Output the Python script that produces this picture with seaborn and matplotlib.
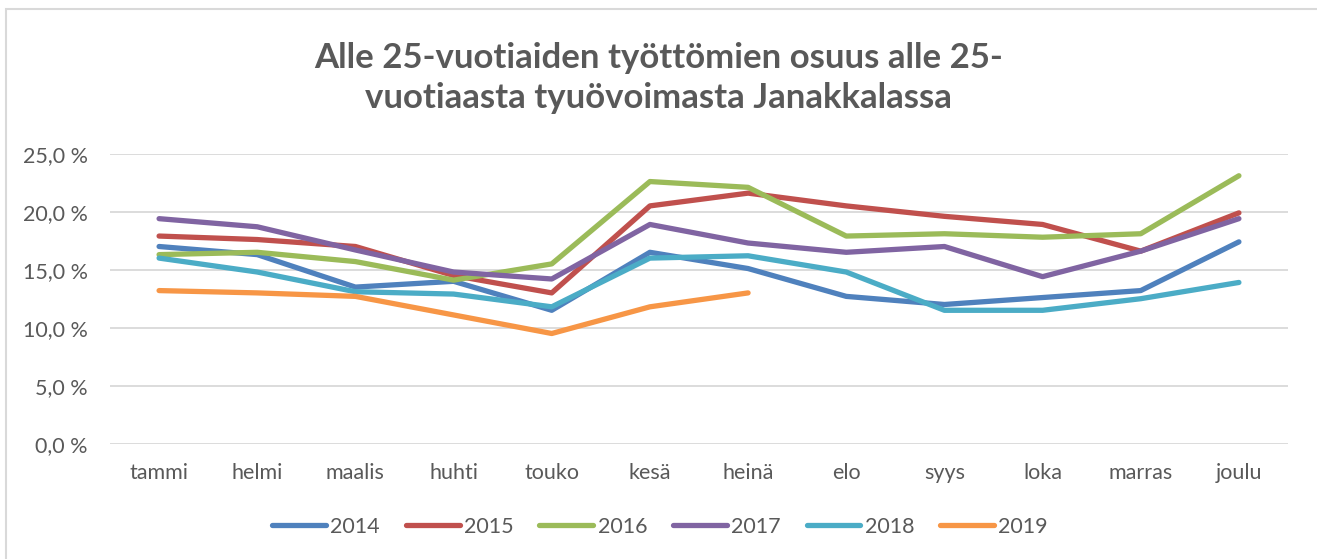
import numpy as np
import pandas as pd
import matplotlib
matplotlib.use("Agg")
import matplotlib.pyplot as plt
import seaborn as sns
from matplotlib.patches import Rectangle
from matplotlib.lines import Line2D

months = ["tammi", "helmi", "maalis", "huhti", "touko", "kesä", "heinä",
          "elo", "syys", "loka", "marras", "joulu"]
y2014 = [17.0, 16.3, 13.5, 14.0, 11.5, 16.5, 15.1, 12.7, 12.0, 12.6, 13.2, 17.4]
y2015 = [17.9, 17.6, 17.0, 14.5, 13.0, 20.5, 21.6, 20.5, 19.6, 18.9, 16.6, 19.9]
y2016 = [16.3, 16.5, 15.7, 14.1, 15.5, 22.6, 22.1, 17.9, 18.1, 17.8, 18.1, 23.1]
y2017 = [19.4, 18.7, 16.7, 14.8, 14.2, 18.9, 17.3, 16.5, 17.0, 14.4, 16.6, 19.4]
y2018 = [16.0, 14.8, 13.1, 12.9, 11.8, 16.0, 16.2, 14.8, 11.5, 11.5, 12.5, 13.9]
y2019 = [13.2, 13.0, 12.7, 11.1, 9.5, 11.8, 13.0]

years = ["2014", "2015", "2016", "2017", "2018", "2019"]
series = [y2014, y2015, y2016, y2017, y2018, y2019]
colors = ["#4F81BD", "#C0504D", "#9BBB59", "#8064A2", "#4BACC6", "#F79646"]
yticks = [0, 5, 10, 15, 20, 25]

title = "Alle 25-vuotiaiden työttömien osuus alle 25-\nvuotiaasta tyuövoimasta Janakkalassa"

rows = []
for yr, vals in zip(years, series):
    for i, v in enumerate(vals):
        rows.append({"year": yr, "m": i, "value": v})
df = pd.DataFrame(rows)

sns.set_theme(style="white")
plt.rcParams["font.family"] = ["Lato", "DejaVu Sans"]

W, H = 1317, 559
fig = plt.figure(figsize=(W / 100, H / 100), dpi=100)
ax = fig.add_axes([110 / W, 1 - 443.7 / H, (1288 - 110) / W, (443.7 - 153.7) / H])

sns.lineplot(data=df, x="m", y="value", hue="year", palette=dict(zip(years, colors)),
             linewidth=3.8, ax=ax, legend=False, solid_capstyle="round",
             solid_joinstyle="round")

ax.set_xlim(-0.5, 11.5)
ax.set_ylim(0, 25)
ax.set_yticks(yticks)
ax.set_yticklabels([f"{v:.1f}".replace(".", ",") + " %" for v in yticks])
ax.set_xticks(range(len(months)))
ax.set_xticklabels(months)
ax.grid(axis="y", color="#D9D9D9", linewidth=1.3)
ax.grid(axis="x", visible=False)
ax.set_axisbelow(True)
for s in ax.spines.values():
    s.set_visible(False)
ax.tick_params(axis="both", length=0, labelsize=15.5, colors="#595959")
ax.tick_params(axis="y", pad=16)
ax.tick_params(axis="x", pad=14)
ax.set_xlabel("")
ax.set_ylabel("")

fig.text(0.5, 1 - 78 / H, title, ha="center", va="center", fontsize=25,
         fontweight="bold", color="#595959", linespacing=1.3)

handles = [Line2D([0], [0], color=c, lw=3.8, solid_capstyle="round") for c in colors]
fig.legend(handles, years, loc="center", bbox_to_anchor=(660 / W, 1 - 527 / H),
           ncol=6, frameon=False, fontsize=15.5, labelcolor="#595959",
           handlelength=2.5, handletextpad=0.2, columnspacing=1.2)

fig.patches.append(Rectangle((6 / W, -0.1), 2, 1 - 9 / H + 0.1, transform=fig.transFigure,
                             fill=False, edgecolor="#D9D9D9", linewidth=1.5))

fig.savefig("out.png", dpi=100)
